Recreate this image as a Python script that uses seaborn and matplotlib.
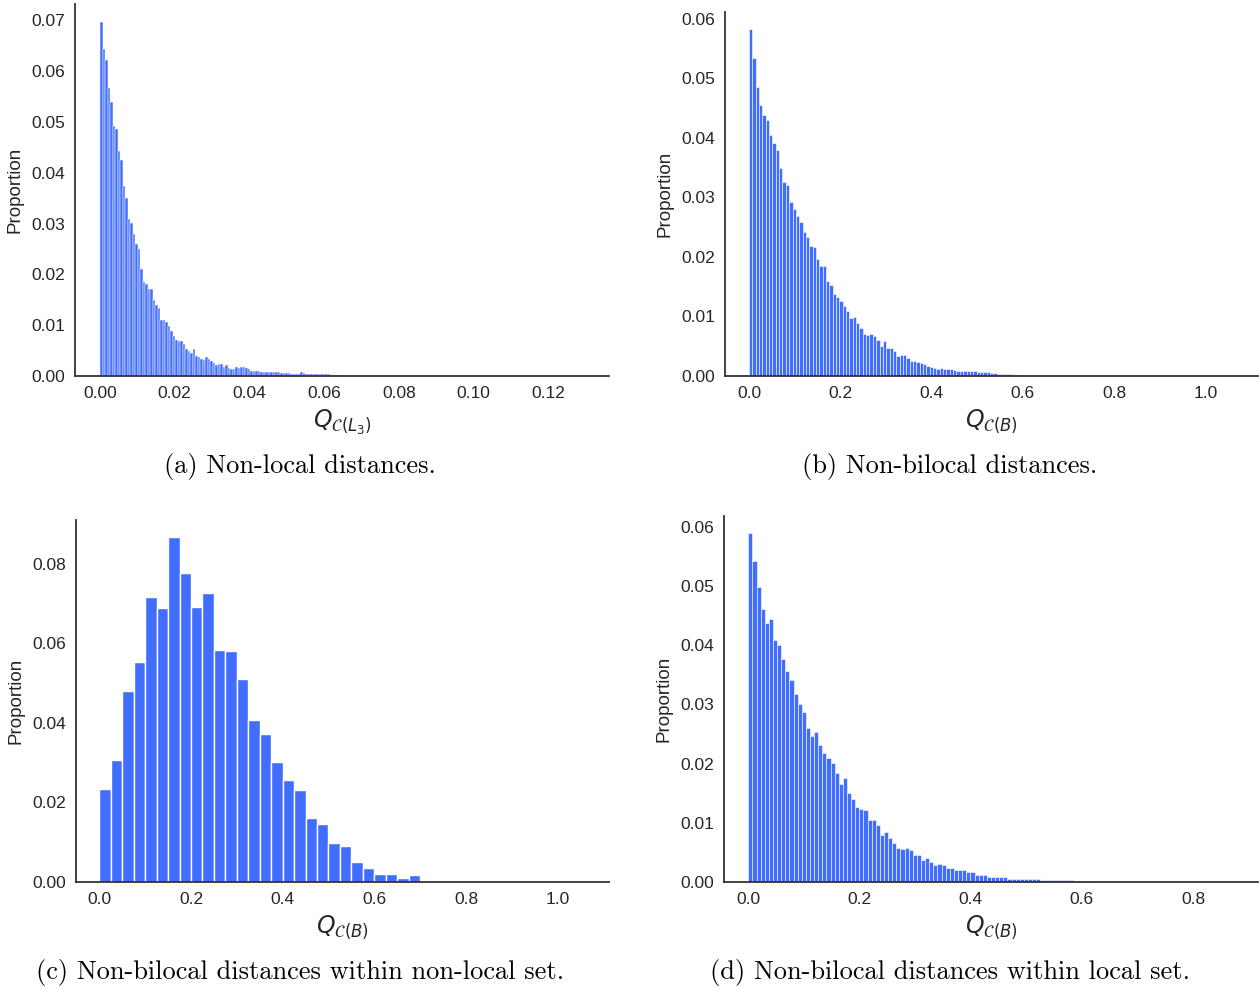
import numpy as np
import pandas as pd
import matplotlib
matplotlib.use("Agg")
import matplotlib.pyplot as plt
import seaborn as sns

# ---------------- data (bar heights) ----------------
# (a) Non-local distances, bin width 0.00067
BIN_A = 0.00067
HEIGHTS_A = [
    0.0697, 0.0643, 0.0622, 0.0566, 0.0540, 0.0491, 0.0486, 0.0443, 0.0425, 0.0374,
    0.0351, 0.0309, 0.0301, 0.0279, 0.0260, 0.0250, 0.0210, 0.0184, 0.0181, 0.0171,
    0.0171, 0.0150, 0.0140, 0.0133, 0.0111, 0.0110, 0.0106, 0.0098, 0.0088, 0.0079,
    0.0070, 0.0069, 0.0068, 0.0062, 0.0054, 0.0050, 0.0046, 0.0054, 0.0039, 0.0038,
    0.0034, 0.0031, 0.0038, 0.0033, 0.0030, 0.0026, 0.0022, 0.0024, 0.0024, 0.0018,
    0.0022, 0.0015, 0.0013, 0.0013, 0.0017, 0.0015, 0.0017, 0.0018, 0.0015, 0.0013,
    0.0010, 0.0010, 0.0009, 0.0009, 0.0008, 0.0008, 0.0007, 0.0007, 0.0007, 0.0007,
    0.0007, 0.0007, 0.0005, 0.0005, 0.0005, 0.0005, 0.0004, 0.0004, 0.0004, 0.0004,
    0.0007, 0.0006, 0.0003, 0.0003, 0.0003, 0.0003, 0.0003, 0.0003, 0.0003, 0.0003,
    0.0003, 0.0003, 0.0002, 0.0002, 0.0001, 0.0001, 0.0001, 0.0001,
]

# (b) Non-bilocal distances, bin width 0.00733
BIN_B = 0.00733
HEIGHTS_B = [
    0.0582, 0.0534, 0.0485, 0.0455, 0.0438, 0.0430, 0.0404, 0.0391, 0.0380, 0.0349,
    0.0326, 0.0320, 0.0292, 0.0280, 0.0268, 0.0258, 0.0242, 0.0234, 0.0218, 0.0216,
    0.0197, 0.0185, 0.0185, 0.0159, 0.0153, 0.0137, 0.0133, 0.0126, 0.0117, 0.0109,
    0.0098, 0.0099, 0.0089, 0.0081, 0.0070, 0.0068, 0.0070, 0.0067, 0.0060, 0.0050,
    0.0059, 0.0047, 0.0047, 0.0042, 0.0033, 0.0036, 0.0036, 0.0030, 0.0026, 0.0025,
    0.0024, 0.0021, 0.0020, 0.0016, 0.0015, 0.0013, 0.0012, 0.0014, 0.0012, 0.0011,
    0.0011, 0.0010, 0.0009, 0.0008, 0.0008, 0.0008, 0.0008, 0.0008, 0.0007, 0.0007,
    0.0007, 0.0006, 0.0005, 0.0005, 0.0004, 0.0003, 0.0003, 0.0003, 0.0003, 0.0002,
    0.0002, 0.0002, 0.0001,
]

# (c) Non-bilocal distances within non-local set, bin width 0.025
BIN_C = 0.025
HEIGHTS_C = [
    0.0233, 0.0306, 0.0480, 0.0552, 0.0716, 0.0688, 0.0866, 0.0777, 0.0692, 0.0727,
    0.0584, 0.0580, 0.0509, 0.0406, 0.0371, 0.0301, 0.0255, 0.0231, 0.0162, 0.0145,
    0.0099, 0.0090, 0.0050, 0.0036, 0.0021, 0.0021, 0.0010, 0.0017,
]

# (d) Non-bilocal distances within local set, bin width 0.0074
BIN_D = 0.0074
HEIGHTS_D = [
    0.0589, 0.0543, 0.0498, 0.0462, 0.0437, 0.0445, 0.0409, 0.0400, 0.0377, 0.0357,
    0.0341, 0.0318, 0.0300, 0.0287, 0.0261, 0.0246, 0.0253, 0.0231, 0.0218, 0.0209,
    0.0201, 0.0184, 0.0166, 0.0175, 0.0150, 0.0141, 0.0126, 0.0124, 0.0122, 0.0104,
    0.0104, 0.0096, 0.0079, 0.0084, 0.0075, 0.0066, 0.0058, 0.0055, 0.0057, 0.0054,
    0.0045, 0.0045, 0.0038, 0.0041, 0.0034, 0.0028, 0.0030, 0.0029, 0.0023, 0.0023,
    0.0021, 0.0020, 0.0020, 0.0017, 0.0017, 0.0012, 0.0012, 0.0012, 0.0008, 0.0008,
    0.0008, 0.0008, 0.0008, 0.0005, 0.0005, 0.0005, 0.0005, 0.0005, 0.0005, 0.0005,
    0.0005, 0.0003, 0.0003, 0.0003, 0.0003, 0.0003, 0.0003, 0.0003, 0.0003, 0.0002,
    0.0002, 0.0001, 0.0002, 0.0001, 0.0002, 0.0000, 0.0002,
]

XTICKS_A = [0.00, 0.02, 0.04, 0.06, 0.08, 0.10, 0.12]
XTICKS_B = [0.0, 0.2, 0.4, 0.6, 0.8, 1.0]
XTICKS_C = [0.0, 0.2, 0.4, 0.6, 0.8, 1.0]
XTICKS_D = [0.0, 0.2, 0.4, 0.6, 0.8]
YTICKS_A = [0.00, 0.01, 0.02, 0.03, 0.04, 0.05, 0.06, 0.07]
YTICKS_B = [0.00, 0.01, 0.02, 0.03, 0.04, 0.05, 0.06]
YTICKS_C = [0.00, 0.02, 0.04, 0.06, 0.08]
YTICKS_D = [0.00, 0.01, 0.02, 0.03, 0.04, 0.05, 0.06]

XLABEL_L3 = r"$Q_{\mathcal{C}(L_3)}$"
XLABEL_B = r"$Q_{\mathcal{C}(B)}$"
CAPTIONS = [
    "(a) Non-local distances.",
    "(b) Non-bilocal distances.",
    "(c) Non-bilocal distances within non-local set.",
    "(d) Non-bilocal distances within local set.",
]

# ---------------- style ----------------
sns.set_theme(style="white", palette="bright")
plt.rcParams["font.family"] = ["Liberation Sans", "DejaVu Sans"]
plt.rcParams["mathtext.fontset"] = "dejavusans"
plt.rcParams["axes.edgecolor"] = "#333333"
plt.rcParams["axes.linewidth"] = 1.3

W, H = 1259, 988
fig = plt.figure(figsize=(W / 100, H / 100), dpi=100)


def rect(left, right, top, bottom):
    return [left / W, 1 - bottom / H, (right - left) / W, (bottom - top) / H]


panels = [
    dict(h=HEIGHTS_A, w=BIN_A, r=rect(75, 609, 4, 376), xt=XTICKS_A, yt=YTICKS_A,
         xl=XLABEL_L3, xlim=(-0.0067, 0.1363), fmt="{:.2f}", lw=None),
    dict(h=HEIGHTS_B, w=BIN_B, r=rect(725, 1258, 12, 376), xt=XTICKS_B, yt=YTICKS_B,
         xl=XLABEL_B, xlim=(-0.0526, 1.115), fmt="{:.1f}", lw=0.4),
    dict(h=HEIGHTS_C, w=BIN_C, r=rect(76, 609, 520, 882), xt=XTICKS_C, yt=YTICKS_C,
         xl=XLABEL_B, xlim=(-0.0508, 1.112), fmt="{:.1f}", lw=None),
    dict(h=HEIGHTS_D, w=BIN_D, r=rect(724, 1258, 516, 882), xt=XTICKS_D, yt=YTICKS_D,
         xl=XLABEL_B, xlim=(-0.0437, 0.917), fmt="{:.1f}", lw=0.4),
]

blue = sns.color_palette("bright")[0]

for p in panels:
    ax = fig.add_axes(p["r"])
    heights = list(p["h"])
    n = len(heights)
    w = p["w"]
    centers = [w * (i + 0.5) for i in range(n)]
    df = pd.DataFrame({"q": centers, "p": heights})
    kws = {} if p["lw"] is None else {"linewidth": p["lw"]}
    sns.histplot(data=df, x="q", weights="p", binwidth=w, binrange=(0.0, n * w),
                 stat="count", color=blue, ax=ax, **kws)
    ax.set_xlim(*p["xlim"])
    ax.set_xticks(p["xt"])
    ax.set_xticklabels([p["fmt"].format(v) for v in p["xt"]])
    ax.set_yticks(p["yt"])
    ax.set_yticklabels(["{:.2f}".format(v) for v in p["yt"]])
    ax.tick_params(axis="both", labelsize=12.5, colors="#262626", length=0)
    ax.tick_params(axis="y", pad=7)
    ax.tick_params(axis="x", pad=7)
    ax.set_ylabel("Proportion", fontsize=13.5, color="#262626", labelpad=6)
    ax.set_xlabel(p["xl"], fontsize=17, color="#262626", labelpad=5)
    sns.despine(ax=ax)

cap_pos = [(300, 467), (950, 467), (300, 972), (950, 972)]
for text, (cx, cy) in zip(CAPTIONS, cap_pos):
    fig.text(cx / W, 1 - cy / H, text, family="cmr10", fontsize=19,
             ha="center", va="center", color="black")

fig.savefig("out.png", dpi=100)
